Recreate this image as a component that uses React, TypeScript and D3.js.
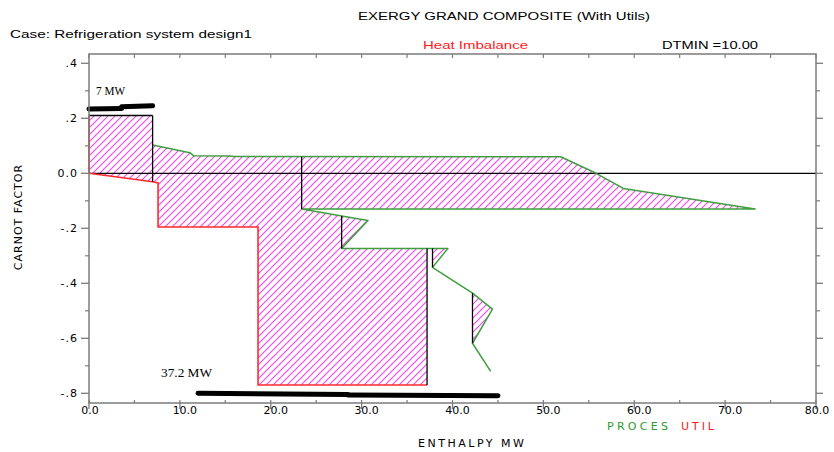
import React from "react";
import * as d3 from "d3";

// Exergy grand composite curve: process (green) vs. utility (red), Carnot factor vs. enthalpy
type Pt = [number, number];

const processCurve: Pt[] = [
  [7.0, 0.103], [11.1, 0.075], [11.5, 0.064], [15.5, 0.063], [15.9, 0.061],
  [51.9, 0.06], [55.8, 0.0], [58.8, -0.055], [73.3, -0.13], [23.4, -0.13],
  [27.8, -0.155], [30.7, -0.172], [27.8, -0.273], [39.5, -0.273], [37.8, -0.342],
  [42.2, -0.436], [44.4, -0.494], [42.2, -0.618], [44.2, -0.72],
];

const utilCurve: Pt[] = [
  [0, 0], [7.0, -0.031], [7.6, -0.035], [7.6, -0.195], [18.6, -0.195],
  [18.6, -0.77], [37.2, -0.77],
];

// hot utility level: enthalpy span and Carnot factor
const hotUtilDuty = 7.0;
const hotUtilCarnot = 0.21;

// vertical connectors: [enthalpy, carnot top, carnot bottom]
const connectors: [number, number, number][] = [
  [7.0, 0.21, -0.031], [23.4, 0.06, -0.13], [27.8, -0.155, -0.273],
  [37.2, -0.273, -0.77], [37.8, -0.273, -0.342], [42.2, -0.436, -0.618],
];

// small enclosed pockets between the process curve and its connectors
const pockets: Pt[][] = [
  [[27.8, -0.155], [30.7, -0.172], [27.8, -0.273]],
  [[37.8, -0.273], [39.5, -0.273], [37.8, -0.342]],
  [[42.2, -0.436], [44.4, -0.494], [42.2, -0.618]],
];

// utility bars (each a pair of slightly offset strokes)
const hotBar: Pt[][] = [
  [[0, 0.234], [3.6, 0.236]],
  [[3.6, 0.242], [7.0, 0.246]],
];
const coldBar: Pt[][] = [
  [[12.0, -0.8], [28.5, -0.804]],
  [[28.5, -0.806], [45.0, -0.809]],
];

const xTicks = [0, 10, 20, 30, 40, 50, 60, 70, 80];
const xMinorTicks = d3.range(0, 80.01, 5);
const yTicks = [0.4, 0.2, 0, -0.2, -0.4, -0.6, -0.8];
const yMinorTicks = [0.3, 0.1, -0.1, -0.3, -0.5, -0.7];

const fmtY = (v: number) =>
  v === 0 ? "0.0" : (v < 0 ? "-" : "") + "." + Math.round(Math.abs(v) * 10);
const fmtX = d3.format(".1f");

const W = 834;
const H = 452;
const left = 89, right = 816, top = 54, bottom = 403;

export default function App() {
  const x = d3.scaleLinear().domain([0, 80]).range([left, right]);
  const y = d3.scaleLinear().domain([-0.8, 0.4]).range([393.3, 63.3]);
  const line = d3.line<Pt>().x((d) => x(d[0])).y((d) => y(d[1]));

  const hotBox: Pt[] = [[0, 0], [0, hotUtilCarnot], [hotUtilDuty, hotUtilCarnot], utilCurve[1]];
  const utilEnd = utilCurve[utilCurve.length - 1][0];
  const mainRegion: Pt[] = [
    ...processCurve.slice(0, 11),
    processCurve[12],
    [utilEnd, processCurve[12][1]],
    ...utilCurve.slice(1).reverse(),
  ];
  const regions = [hotBox, mainRegion, ...pockets];

  const gray = "#7c7c7c";
  const green = "#3f9f3f";
  const red = "#ff2a2a";
  const sans = "'Liberation Sans', Arial, sans-serif";
  const wide = "'DejaVu Sans', sans-serif";
  const serif = "'Liberation Serif', 'Times New Roman', serif";

  const xLabelOffset = (v: number) => (v === 0 ? 1 : v === 80 ? 1 : 5);

  return (
    <svg width={W} height={H} style={{ position: "absolute", left: 0, top: 0, background: "#fff" }}>
      <defs>
        <pattern id="hatch" patternUnits="userSpaceOnUse" width={7} height={7}>
          <path d="M-1,1 L1,-1 M0,7 L7,0 M6,8 L8,6" stroke="#f04af0" strokeWidth={1.2} />
        </pattern>
      </defs>
      <rect width={W} height={H} fill="#fff" />

      {/* header texts */}
      <text x={358} y={20} fontFamily={sans} fontSize={11.5} textLength={292} lengthAdjust="spacingAndGlyphs">
        EXERGY GRAND COMPOSITE (With Utils)
      </text>
      <text x={10} y={38} fontFamily={sans} fontSize={11.5} textLength={242} lengthAdjust="spacingAndGlyphs">
        Case: Refrigeration system design1
      </text>
      <text x={423} y={49} fontFamily={sans} fontSize={11.5} fill="#ff1a1a" textLength={105} lengthAdjust="spacingAndGlyphs">
        Heat Imbalance
      </text>
      <text x={662} y={49} fontFamily={sans} fontSize={11.5} textLength={96} lengthAdjust="spacingAndGlyphs">
        DTMIN =10.00
      </text>

      {/* hatched imbalance regions */}
      {regions.map((r, i) => (
        <path key={i} d={line(r) + "Z"} fill="url(#hatch)" stroke="none" />
      ))}

      {/* zero line */}
      <line x1={x(0)} x2={x(80)} y1={y(0)} y2={y(0)} stroke="#000" strokeWidth={1.2} />

      {/* utility curve */}
      <path d={line(utilCurve) ?? ""} fill="none" stroke={red} strokeWidth={1.6} />
      <line x1={x(0)} x2={x(0)} y1={y(0)} y2={y(hotUtilCarnot)} stroke={red} strokeWidth={1.6} />
      <line x1={x(0)} x2={x(hotUtilDuty)} y1={y(hotUtilCarnot)} y2={y(hotUtilCarnot)} stroke="#000" strokeWidth={1.4} />

      {/* process curve */}
      <path d={line(processCurve) ?? ""} fill="none" stroke={green} strokeWidth={1.5} strokeLinejoin="round" />

      {/* connectors */}
      {connectors.map(([h, a, b], i) => (
        <line key={i} x1={x(h)} x2={x(h)} y1={y(a)} y2={y(b)} stroke="#000" strokeWidth={1.3} />
      ))}

      {/* utility bars */}
      {[...hotBar, ...coldBar].map((seg, i) => (
        <path key={i} d={line(seg) ?? ""} stroke="#000" strokeWidth={5} strokeLinecap="round" fill="none" />
      ))}
      <text x={96} y={95} fontFamily={serif} fontSize={12.5} textLength={29} lengthAdjust="spacingAndGlyphs">7 MW</text>
      <text x={161} y={377} fontFamily={serif} fontSize={12.5} textLength={51} lengthAdjust="spacingAndGlyphs">37.2 MW</text>

      {/* frame */}
      <rect x={left} y={top} width={right - left} height={bottom - top} fill="none" stroke={gray} strokeWidth={1.5} />

      {/* y ticks (left and right) */}
      {yTicks.map((v) => (
        <g key={"y" + v}>
          <line x1={left - 8} x2={left} y1={y(v)} y2={y(v)} stroke={gray} strokeWidth={1.3} />
          <line x1={right} x2={right + 7} y1={y(v)} y2={y(v)} stroke={gray} strokeWidth={1.3} />
          <text x={78} y={y(v) + 4} textAnchor="end" fontFamily={wide} fontSize={11} letterSpacing={1}>
            {fmtY(v)}
          </text>
        </g>
      ))}
      {yMinorTicks.map((v) => (
        <g key={"ym" + v}>
          <line x1={left - 4} x2={left} y1={y(v)} y2={y(v)} stroke={gray} strokeWidth={1.2} />
          <line x1={right} x2={right + 4} y1={y(v)} y2={y(v)} stroke={gray} strokeWidth={1.2} />
        </g>
      ))}

      {/* x ticks (bottom and top) */}
      {xMinorTicks.map((v) => (
        <g key={"xm" + v}>
          <line x1={x(v)} x2={x(v)} y1={bottom - 3} y2={bottom} stroke={gray} strokeWidth={1.2} />
          <line x1={x(v)} x2={x(v)} y1={top} y2={top + 4} stroke={gray} strokeWidth={1.2} />
        </g>
      ))}
      {xTicks.map((v) => (
        <g key={"x" + v}>
          <line x1={x(v)} x2={x(v)} y1={bottom} y2={bottom + 6} stroke={gray} strokeWidth={1.3} />
          <text x={x(v) + xLabelOffset(v)} y={414} textAnchor="middle" fontFamily={wide} fontSize={11}>
            {fmtX(v)}
          </text>
        </g>
      ))}

      {/* axis titles */}
      <text x={418} y={447} fontFamily={wide} fontSize={11} textLength={106} lengthAdjust="spacing">
        ENTHALPY MW
      </text>
      <text
        transform={`translate(22,217) rotate(-90)`}
        textAnchor="middle"
        fontFamily={wide}
        fontSize={11}
        letterSpacing={1}
      >
        CARNOT FACTOR
      </text>
      <text x={607} y={430} fontFamily={wide} fontSize={11} textLength={61} lengthAdjust="spacing" fill="#2f9a2f">PROCES</text>
      <text x={681} y={430} fontFamily={wide} fontSize={11} textLength={33} lengthAdjust="spacing" fill="#ff1a1a">UTIL</text>
    </svg>
  );
}
